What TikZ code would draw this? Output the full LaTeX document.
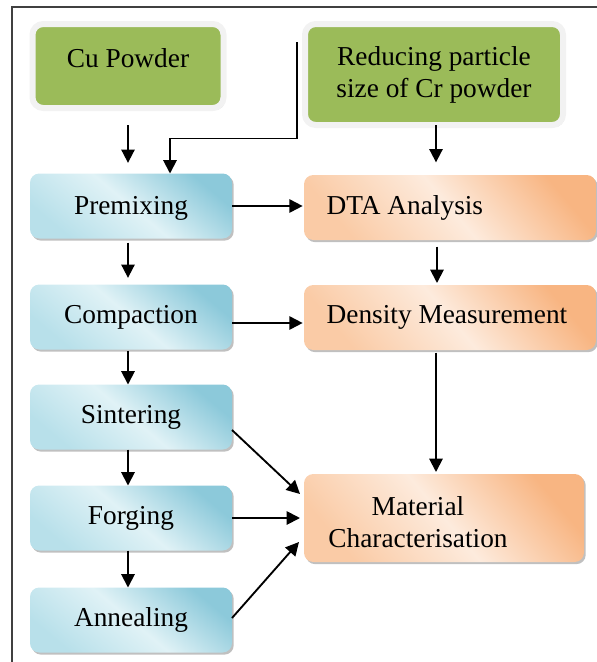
\documentclass[tikz,border=0pt]{standalone}
\usepackage{fontspec}
\setmainfont{Liberation Serif}
\usetikzlibrary{arrows.meta,shadows,calc}
\definecolor{grn}{HTML}{9BBB59}
\definecolor{bluedark}{HTML}{8CC9DA}
\definecolor{bluemid}{HTML}{B8E0EA}
\definecolor{bluelight}{HTML}{E0F2F6}
\definecolor{orgdark}{HTML}{F8B582}
\definecolor{orgmid}{HTML}{FACBA6}
\definecolor{orglight}{HTML}{FDEBDD}
\definecolor{frm}{HTML}{404040}
\definecolor{rim}{HTML}{F2F2F2}
\begin{document}
\begin{tikzpicture}[x=0.75pt,y=-0.75pt,
  boxfont/.style={font=\fontsize{20.5}{24}\selectfont},
  shad/.style={drop shadow={shadow xshift=1.3pt,shadow yshift=-1.6pt,opacity=0.45,fill=black!55}},
  greenbox/.style={boxfont,shad,rounded corners=8pt,fill=grn,draw=rim,line width=4.5pt,
    inner sep=0pt,outer sep=0pt,align=center},
  bluebox/.style={boxfont,shad,rounded corners=7pt,top color=bluedark,bottom color=bluemid,
    middle color=bluelight,shading angle=-40,minimum width=151.5pt,minimum height=48.75pt,
    inner sep=0pt,outer sep=0pt},
  orangebox/.style={boxfont,shad,rounded corners=7pt,top color=orgdark,bottom color=orgmid,
    middle color=orglight,shading angle=-50,minimum height=48.75pt,inner sep=0pt,outer sep=0pt},
  arr/.style={-{Triangle[length=10pt,width=10pt]},line width=1.4pt,black}]
\useasboundingbox (0,0) rectangle (597,662);
\draw[frm,line width=1.5pt] (12,662) -- (12,7) -- (597,7);

\node[greenbox,minimum width=143.25pt,minimum height=63pt,text depth=12pt] (cu) at (128,66) {Cu Powder};
\node[greenbox,minimum width=193.5pt,minimum height=75.75pt] (red) at (434,74.5) {Reducing particle\\size of Cr powder};

\node[bluebox] (pre) at (131,206) {\raisebox{-2pt}[\height][\depth]{Premixing}};
\node[bluebox] (com) at (131,317) {Compaction};
\node[bluebox] (sin) at (131,417) {Sintering};
\node[bluebox] (forg) at (131,518) {Forging};
\node[bluebox] (ann) at (131,620) {Annealing};

\node[orangebox,minimum width=219pt] (dta) at (450,207.5) {\makebox[185pt][l]{DTA Analysis}};
\node[orangebox,minimum width=219pt] (den) at (450,317.5) {\makebox[185pt][l]{Density Measurement}};
\node[orangebox,minimum width=210pt,minimum height=66pt] (mat) at (444,518)
  {\raisebox{-5.25pt}[\height][\depth]{\begin{tabular}{@{}c@{}}Material\\Characterisation\end{tabular}}\kern39pt};

\coordinate (rs) at (297,42);
\coordinate (rd) at ($(red.south)+(2,0)$);
\coordinate (dd) at ($(dta.south)+(-13,0)$);
\coordinate (cc) at ($(com.east)+(0,6)$);

\draw[arr,shorten <=12.75pt,shorten >=8pt] (cu.south) -- (cu.south |- pre.north);
\draw[arr] (rs) |- ($(pre.north)+(39,-35)$) -- ($(pre.north)+(39,0)$);
\draw[arr,shorten >=9.5pt] (rd) -- (rd |- dta.north);
\draw[arr,shorten >=1pt] (pre.east) -- (pre.east -| dta.west);
\draw[arr,shorten <=5pt,shorten >=1.5pt] (dd) -- (dd |- den.north);
\draw[arr,shorten >=1pt] (cc) -- (cc -| den.west);
\draw[arr,shorten <=3pt,shorten >=5pt] ($(pre.south)+(-3,0)$) -- ($(com.north)+(-3,0)$);
\draw[arr,shorten <=1pt] ($(com.south)+(-3,0)$) -- ($(sin.north)+(-3,0)$);
\draw[arr] ($(sin.south)+(-3,0)$) -- ($(forg.north)+(-3,0)$);
\draw[arr] ($(forg.south)+(-3,0)$) -- ($(ann.north)+(-3,0)$);
\draw[arr,shorten <=2pt,shorten >=1.5pt] ($(den.south)+(-14,0)$) -- ($(mat.north)+(-8,0)$);
\draw[arr] ($(sin.east)+(0,13)$) -- ($(mat.west)+(-4,-24)$);
\draw[arr] (forg.east) -- ($(mat.west)+(-4,0)$);
\draw[arr] ($(ann.east)+(0,-2)$) -- ($(mat.west)+(-5,24)$);
\end{tikzpicture}
\end{document}
